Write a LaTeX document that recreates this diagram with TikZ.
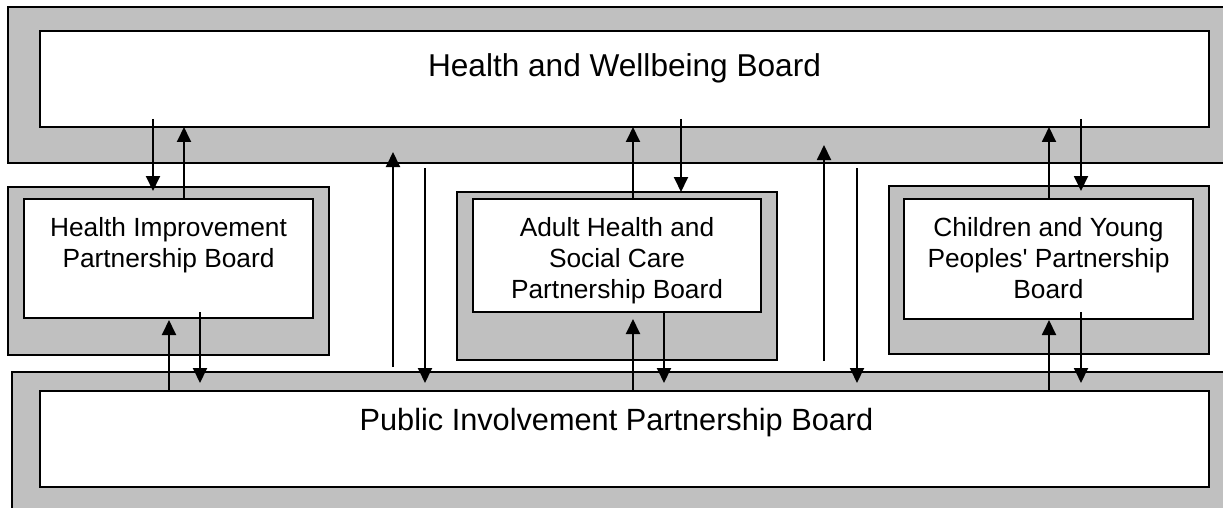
\documentclass[tikz,border=0pt]{standalone}
\usepackage{fontspec}
\setmainfont{Liberation Sans}
\usetikzlibrary{arrows.meta}
\definecolor{boardgrey}{HTML}{C0C0C0}

\begin{document}
\begin{tikzpicture}[x=1pt,y=-1pt,
  every node/.style={inner sep=0pt, outer sep=0pt},
  outerbox/.style={draw, line width=1.6pt, fill=boardgrey, anchor=north west},
  innerbox/.style={draw, line width=1.6pt, fill=white, anchor=north west},
  bigtext/.style={anchor=north, font=\fontsize{31.6}{37}\selectfont},
  smalltext/.style={anchor=north, align=center, font=\fontsize{26.3}{31}\selectfont},
  flow/.style={line width=1.9pt, -{Triangle[width=14pt,length=15pt]}}]
\clip (0,0) rectangle (1223,508);
% grey frames
\node[outerbox, minimum width=1232pt, minimum height=156pt] (hwbo) at (8,7) {};
\node[outerbox, minimum width=321pt, minimum height=168pt] (hipo) at (8,187) {};
\node[outerbox, minimum width=320pt, minimum height=168pt] (ahso) at (457,192) {};
\node[outerbox, minimum width=320pt, minimum height=168pt] (cypo) at (889,186) {};
\node[outerbox, minimum width=1228pt, minimum height=148pt] (pipo) at (12,372) {};
% white boards
\node[innerbox, minimum width=1169pt, minimum height=96pt] (hwb) at (40,31) {};
\node[innerbox, minimum width=289pt, minimum height=119pt] (hip) at (24,199) {};
\node[innerbox, minimum width=288pt, minimum height=113pt] (ahs) at (473,199) {};
\node[innerbox, minimum width=289pt, minimum height=120pt] (cyp) at (904,199) {};
\node[innerbox, minimum width=1169pt, minimum height=96pt] (pip) at (40,391) {};
% board names
\node[bigtext] (hwbtext) at ([yshift=-23pt]hwb.north) {Health and Wellbeing Board};
\node[smalltext] (hiptext) at ([yshift=-18pt]hip.north) {Health Improvement\\Partnership Board};
\node[smalltext] (ahstext) at ([yshift=-18pt]ahs.north) {Adult Health and\\Social Care\\Partnership Board};
\node[smalltext] (cyptext) at ([yshift=-18pt]cyp.north) {Children and Young\\Peoples\textquotesingle{} Partnership\\Board};
\node[bigtext, font=\fontsize{30.7}{37}\selectfont] (piptext) at ([xshift=-8pt,yshift=-17pt]pip.north) {Public Involvement Partnership Board};
% links to the top board
\draw[flow] ([yshift=8pt]hwb.south -| 153,0) -- ([yshift=-4pt]hipo.north -| 153,0);
\draw[flow] (hip.north -| 184,0) -- (hwb.south -| 184,0);
\draw[flow] (ahs.north -| 633,0) -- (hwb.south -| 633,0);
\draw[flow] ([yshift=8pt]hwb.south -| 681,0) -- (ahso.north -| 681,0);
\draw[flow] (cyp.north -| 1049,0) -- (hwb.south -| 1049,0);
\draw[flow] ([yshift=8pt]hwb.south -| 1081,0) -- ([yshift=-5pt]cypo.north -| 1081,0);
% long links
\draw[flow] ([yshift=5pt]pipo.north -| 393,0) -- ([yshift=11pt]hwbo.south -| 393,0);
\draw[flow] ([yshift=-5pt]hwbo.south -| 425,0) -- ([yshift=-11pt]pipo.north -| 425,0);
\draw[flow] ([yshift=11pt]pipo.north -| 824,0) -- ([yshift=18pt]hwbo.south -| 824,0);
\draw[flow] ([yshift=-5pt]hwbo.south -| 857,0) -- ([yshift=-11pt]pipo.north -| 857,0);
% links to the bottom board
\draw[flow] (pip.north -| 169,0) -- ([yshift=-2pt]hip.south -| 169,0);
\draw[flow] ([yshift=6pt]hip.south -| 200,0) -- ([yshift=-11pt]pipo.north -| 200,0);
\draw[flow] (pip.north -| 633,0) -- ([yshift=-7pt]ahs.south -| 633,0);
\draw[flow] (ahs.south -| 664,0) -- ([yshift=-11pt]pipo.north -| 664,0);
\draw[flow] (pip.north -| 1049,0) -- ([yshift=-1pt]cyp.south -| 1049,0);
\draw[flow] ([yshift=7pt]cyp.south -| 1081,0) -- ([yshift=-11pt]pipo.north -| 1081,0);
\end{tikzpicture}
\end{document}
